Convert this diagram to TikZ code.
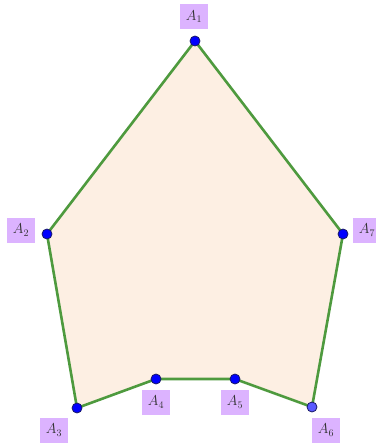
\documentclass[tikz,border=0pt]{standalone}
\begin{document}
\begin{tikzpicture}[x=1pt,y=-1pt,
  edge/.style={draw=polyline, line width=2.6pt, line join=round},
  pt/.style={circle, fill=dotblue, draw=dotedge, line width=0.8pt, minimum size=10pt, inner sep=0pt},
  lab/.style={fill=labbg, text=labtext, minimum width=28pt, minimum height=25pt, inner sep=0pt, font=\fontsize{14.5}{16}\selectfont}]
\definecolor{polyline}{HTML}{4E9A3E}
\definecolor{polyfill}{HTML}{FDEFE3}
\definecolor{dotblue}{HTML}{0000FF}
\definecolor{dotedge}{HTML}{1A1A66}
\definecolor{labbg}{HTML}{DCB3FF}
\definecolor{labtext}{HTML}{333333}
\useasboundingbox (0,0) rectangle (375,443);
\coordinate (A1) at (195,41);
\coordinate (A2) at (47,234);
\coordinate (A3) at (77,408);
\coordinate (A4) at (156,379);
\coordinate (A5) at (235,379);
\coordinate (A6) at (312,407);
\coordinate (A7) at (343,234);
\fill[polyfill] (A1) -- (A2) -- (A3) -- (A4) -- (A5) -- (A6) -- (A7) -- cycle;
\draw[edge] (A1) -- (A2) -- (A3) -- (A4) -- (A5) -- (A6) -- (A7) -- cycle;
\foreach \p in {A1,A2,A3,A4,A5,A7} \node[pt] (d\p) at (\p) {};
\node[pt, fill=dotblue!65] (dA6) at (A6) {};
\node[lab] (l1) at (194,17) {$A_1$};
\node[lab] (l2) at (21,230) {$A_2$};
\node[lab] (l3) at (54,430) {$A_3$};
\node[lab] (l4) at (156,402) {$A_4$};
\node[lab] (l5) at (235,402) {$A_5$};
\node[lab] (l6) at (326,430) {$A_6$};
\node[lab] (l7) at (367,230) {$A_7$};
\end{tikzpicture}
\end{document}
